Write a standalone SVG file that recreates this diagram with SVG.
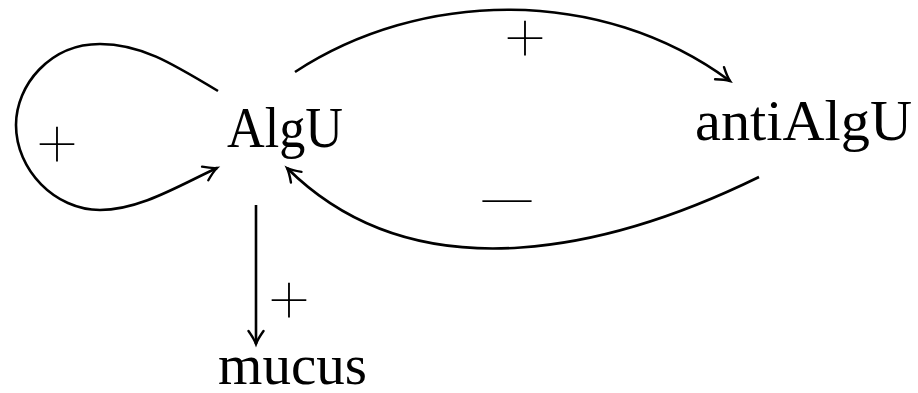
<svg xmlns="http://www.w3.org/2000/svg" width="918" height="393" viewBox="0 0 918 393">
<style>
.lbl{font-family:"Liberation Serif","DejaVu Serif",serif;font-size:56px;fill:#000}
.sign{font-family:"Inter","Roboto","Liberation Sans",sans-serif;font-weight:100;font-size:84px;fill:#000;text-anchor:middle}
.edge{fill:none;stroke:#000;stroke-width:2.6;marker-end:url(#arr)}
</style>
<defs>
<marker id="arr" markerUnits="userSpaceOnUse" viewBox="-16 -10 18 20" markerWidth="18" markerHeight="20" refX="0" refY="0" orient="auto" overflow="visible">
<path d="M-13,-7.5 Q-5,-1.8 0,0 Q-5,1.8 -13,7.5" fill="none" stroke="#000" stroke-width="2.4" stroke-linecap="round"/>
</marker>
</defs>
<rect width="918" height="393" fill="#fff"/>
<g id="connectors">
<path class="edge" d="M218,91 C170,62 140,44 100,44 C50,44 16,85 16,125 C16,170 55,210 100,210 C140,210 180,185 217,168"/>
<path class="edge" d="M295,72 C420,-10 600,-15 730,81"/>
<path class="edge" d="M759,177 C620,245 420,300 287,168"/>
<path class="edge" d="M256,205 L256,344"/>
<text class="sign" x="57" y="168">+</text>
<text class="sign" x="525" y="62">+</text>
<text class="sign" x="289" y="324">+</text>
<text class="sign" x="507" y="225" font-size="60" textLength="76" lengthAdjust="spacingAndGlyphs">−</text>
</g>
<g id="AlgU"><text class="lbl" x="227" y="147" textLength="116" lengthAdjust="spacingAndGlyphs">AlgU</text></g>
<g id="antiAlgU"><text class="lbl" x="695" y="140" textLength="217" lengthAdjust="spacingAndGlyphs">antiAlgU</text></g>
<g id="mucus"><text class="lbl" x="218" y="384" font-size="54" textLength="149" lengthAdjust="spacingAndGlyphs">mucus</text></g>
</svg>
